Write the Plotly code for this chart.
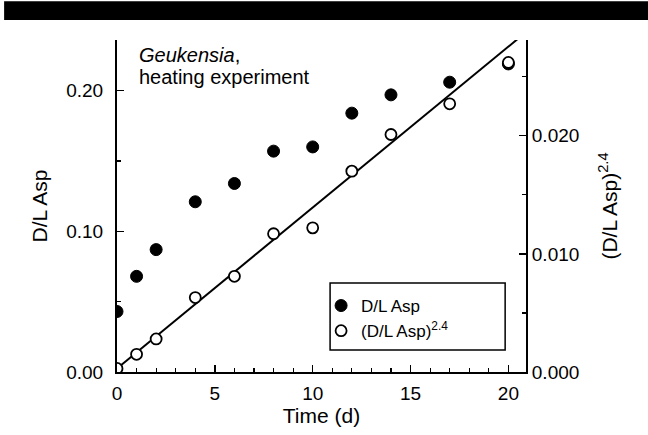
import plotly.graph_objects as go

# ---- data ----
time_d = [0, 1, 2, 4, 6, 8, 10, 12, 14, 17, 20]
dl_asp = [0.043, 0.068, 0.087, 0.121, 0.134, 0.157, 0.160, 0.184, 0.197, 0.206, 0.219]
dl_asp_pow = [0.0003, 0.0015, 0.0028, 0.0063, 0.0081, 0.0117, 0.0122, 0.0170, 0.0201, 0.0227, 0.0262]
fit_t = [0, 21]
fit_y = [0.0003, 0.0289]

x_ticks = [0, 5, 10, 15, 20]
y_ticks = [0.0, 0.10, 0.20]
y2_ticks = [0.000, 0.010, 0.020]

FONT = "Liberation Sans, Arial, Helvetica, sans-serif"
X_RANGE = [0, 20.9]

fig = go.Figure()

fig.add_trace(go.Scatter(
    x=fit_t, y=fit_y, yaxis="y2", mode="lines",
    line=dict(color="black", width=2), showlegend=False, hoverinfo="skip"))

fig.add_trace(go.Scatter(
    x=time_d, y=dl_asp, mode="markers", name="D/L Asp",
    marker=dict(symbol="circle", size=12, color="black",
                line=dict(color="black", width=1))))

fig.add_trace(go.Scatter(
    x=time_d, y=dl_asp_pow, yaxis="y2", mode="markers",
    name="(D/L Asp)<sup>2.4</sup>",
    marker=dict(symbol="circle", size=11, color="white",
                line=dict(color="black", width=1.8))))

axis_common = dict(showgrid=False, zeroline=False, showline=True,
                   linecolor="black", linewidth=2, ticks="inside",
                   tickcolor="black", tickwidth=1.5, ticklen=7,
                   tickfont=dict(family=FONT, size=19, color="black"))
minor_common = dict(ticks="inside", ticklen=4, tickcolor="black", tickwidth=1.2)

fig.update_layout(
    width=648, height=435,
    margin=dict(l=117, r=122, t=40, b=63),
    paper_bgcolor="white", plot_bgcolor="white",
    font=dict(family=FONT, color="black"),
    xaxis=dict(range=X_RANGE, tickvals=x_ticks,
               minor=dict(dtick=1, **minor_common),
               ticklabelstandoff=3,
               title=dict(text="Time (d)", font=dict(family=FONT, size=21),
                          standoff=0),
               **axis_common),
    xaxis2=dict(range=X_RANGE, tickvals=x_ticks, overlaying="x", side="top",
                showticklabels=False,
                minor=dict(dtick=1, **minor_common),
                **axis_common),
    yaxis=dict(range=[0, 0.236], tickvals=y_ticks, tickformat=".2f",
               minor=dict(dtick=0.05, **minor_common),
               ticklabelstandoff=8,
               title=dict(text="D/L Asp", font=dict(family=FONT, size=21),
                          standoff=13),
               **axis_common),
    yaxis2=dict(range=[0, 0.0281], tickvals=y2_ticks, tickformat=".3f",
                overlaying="y", side="right",
                minor=dict(dtick=0.005, **minor_common),
                ticklabelstandoff=0,
                title=dict(text="(D/L Asp)<sup>2.4</sup>",
                           font=dict(family=FONT, size=21), standoff=24),
                **axis_common),
    legend=dict(x=0.499, y=0.253, xanchor="left", yanchor="top",
                bgcolor="rgba(0,0,0,0)", borderwidth=0,
                font=dict(family=FONT, size=17, color="black"),
                itemwidth=30, tracegroupgap=0),
    showlegend=True,
)

# legend frame
fig.add_shape(type="rect", xref="paper", yref="paper",
              x0=0.521, x1=0.949, y0=0.066, y1=0.268,
              fillcolor="rgba(0,0,0,0)", line=dict(color="black", width=1.5),
              layer="below")

# black bar across the top of the page
fig.add_shape(type="rect", xref="paper", yref="paper",
              x0=-0.276, x1=1.30, y0=1.060, y1=1.117,
              fillcolor="black", line=dict(width=0), layer="above")

fig.add_annotation(xref="paper", yref="paper", x=0.049, y=0.955,
                   xanchor="left", yanchor="middle", showarrow=False,
                   text="<i>Geukensia</i>,", align="left",
                   font=dict(family=FONT, size=20, color="black"))
fig.add_annotation(xref="paper", yref="paper", x=0.049, y=0.889,
                   xanchor="left", yanchor="middle", showarrow=False,
                   text="heating experiment", align="left",
                   font=dict(family=FONT, size=20, color="black"))

fig.write_html("out.html",
               config={"displayModeBar": False, "staticPlot": True},
               post_script="document.body.style.margin='0';"
                           "document.body.style.overflow='hidden';")
